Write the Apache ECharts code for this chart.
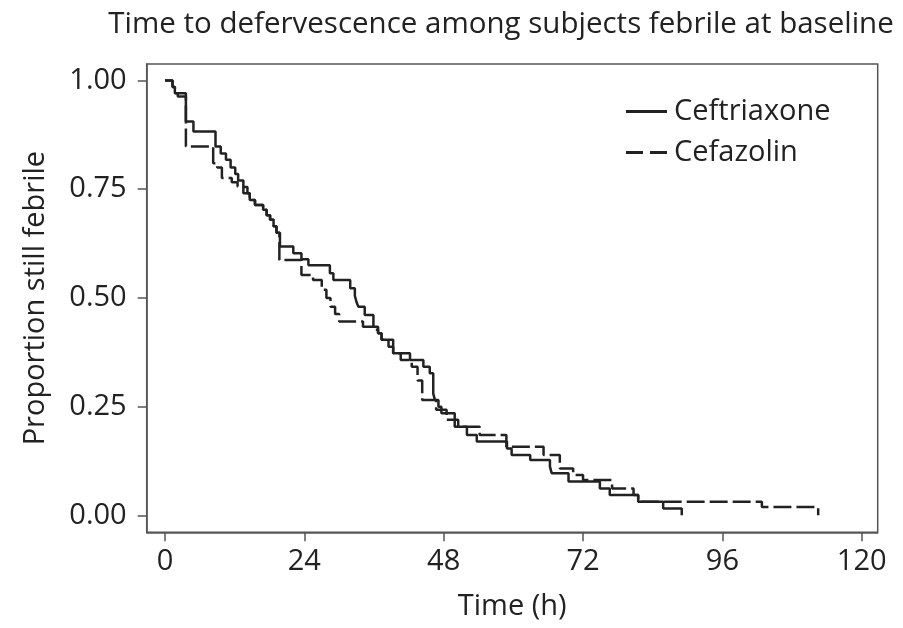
<!DOCTYPE html>
<html><head><meta charset="utf-8">
<script src="https://cdn.jsdelivr.net/npm/echarts@6/dist/echarts.min.js"></script>
<style>html,body{margin:0;padding:0;background:#fff}#c{width:903px;height:628px}</style>
</head><body><div id="c"></div>
<script>
// Kaplan-Meier steps: [time (h), proportion still febrile from that time]
const ceftriaxone = [
  [0,1],[1.3,0.985],[1.7,0.971],[3.6,0.906],[4.9,0.883],[8.7,0.848],[9.6,0.832],[10.5,0.818],
  [11.3,0.80],[12.1,0.785],[12.6,0.77],[13.5,0.755],[14.2,0.741],[14.6,0.725],[15.5,0.714],
  [16.9,0.703],[17.5,0.69],[18.1,0.68],[18.7,0.665],[19.2,0.65],[19.8,0.618],[22.1,0.603],
  [23.5,0.589],[24.7,0.575],[28.4,0.557],[29,0.541],[31.9,0.522],[32.7,0.505],[33,0.49],
  [33.3,0.48],[34.4,0.461],[35.9,0.434],[36.7,0.419],[37.3,0.404],[39.3,0.373],[42.2,0.357],
  [44.5,0.342],[45.6,0.327],[46.2,0.28],[46.5,0.265],[47.1,0.25],[47.6,0.235],[49.9,0.204],
  [52,0.185],[53.7,0.17],[58.9,0.154],[59.7,0.139],[62.9,0.127],[66.3,0.112],[66.6,0.097],
  [69.5,0.078],[74.9,0.062],[76.6,0.047],[81.5,0.031],[85.8,0.016],[89,0]
];
const cefazolin = [
  [0,1],[1.3,0.985],[1.7,0.971],[2.2,0.963],[3.6,0.848],[8.3,0.81],[9.0,0.80],[9.8,0.776],
  [11.5,0.766],[12.5,0.756],[13.5,0.741],[14.6,0.725],[15.5,0.714],[16.9,0.703],[17.5,0.69],
  [18.1,0.68],[18.7,0.665],[19.2,0.65],[19.7,0.587],[23.5,0.553],[25.5,0.541],[27,0.519],
  [27.8,0.50],[28.5,0.48],[29.3,0.463],[30,0.446],[34.1,0.434],[35.9,0.427],[36.7,0.419],
  [37.3,0.404],[38.5,0.388],[39.3,0.373],[40.6,0.357],[42.5,0.342],[43.5,0.31],[44.3,0.265],
  [46.7,0.243],[48.5,0.22],[50.5,0.204],[54.2,0.185],[58.8,0.158],[65.2,0.139],[68,0.108],
  [70.3,0.093],[72,0.081],[77,0.062],[80.7,0.047],[81.5,0.031],[102.8,0.019],[112.5,0]
];
const xTicks = [0,24,48,72,96,120];
const yTicks = [0,0.25,0.5,0.75,1];
const titleText = 'Time to defervescence among subjects febrile at baseline';
const seriesNames = ['Ceftriaxone','Cefazolin'];

const FONT = 'Open Sans';
const ink = '#222';
const chart = echarts.init(document.getElementById('c'), null, {renderer:'canvas'});
chart.setOption({
  animation:false,
  backgroundColor:'#fff',
  title:{text:titleText,left:496,top:5,textAlign:'center',
    textStyle:{fontFamily:FONT,fontSize:29.5,fontWeight:'normal',color:ink}},
  grid:{left:146.7,top:64,right:25.3,bottom:95.7,show:true,borderColor:'#555',borderWidth:1.5},
  legend:{orient:'vertical',left:621,top:92,itemWidth:41,itemHeight:3,itemGap:12,
    textStyle:{fontFamily:FONT,fontSize:29,color:ink,padding:[0,0,0,2]},
    data:[
      {name:seriesNames[0],icon:'rect'},
      {name:seriesNames[1],icon:'path://M0,0h17v3h-17zM24,0h17v3h-17z'}
    ]},
  xAxis:{type:'value',min:-3.15,max:122.75,
    name:'Time (h)',nameLocation:'middle',nameGap:60,
    nameTextStyle:{fontFamily:FONT,fontSize:29,color:ink},
    axisLine:{onZero:false,lineStyle:{color:'#555',width:1.5}},
    axisTick:{show:true,length:9,lineStyle:{color:'#555',width:1.5},customValues:xTicks},
    axisLabel:{fontFamily:FONT,fontSize:29,color:ink,margin:15,customValues:xTicks},
    splitLine:{show:false}},
  yAxis:{type:'value',min:-0.039,max:1.038,
    name:'Proportion still febrile',nameLocation:'middle',nameGap:96,
    nameTextStyle:{fontFamily:FONT,fontSize:29,color:ink},
    axisLine:{show:true,onZero:false,lineStyle:{color:'#555',width:1.5}},
    axisTick:{show:true,length:9,lineStyle:{color:'#555',width:1.5},customValues:yTicks},
    axisLabel:{fontFamily:FONT,fontSize:29,color:ink,margin:20,customValues:yTicks,
      formatter:v=>v.toFixed(2)},
    splitLine:{show:false}},
  series:[
    {name:seriesNames[0],type:'line',step:'end',data:ceftriaxone,symbol:'none',showSymbol:false,
     lineStyle:{color:ink,width:2.5,type:'solid'},itemStyle:{color:ink}},
    {name:seriesNames[1],type:'line',step:'end',data:cefazolin,symbol:'none',showSymbol:false,
     lineStyle:{color:ink,width:2.5,type:[18,5]},itemStyle:{color:ink}}
  ]
});
</script></body></html>
